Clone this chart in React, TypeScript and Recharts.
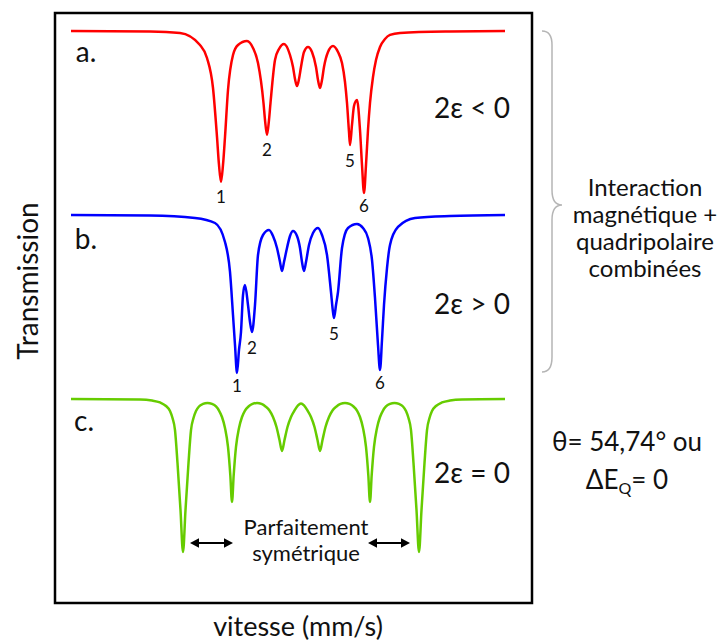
import React from "react"
import { ComposedChart, Line, XAxis, YAxis, ReferenceArea, ReferenceDot, ReferenceLine } from "recharts"

// [velocity (mm/s), transmission (a.u., offset per spectrum)]
const spectrumA: [number, number][] = [
  [-11.5, 95.33], [-7.55, 95.25], [-6.05, 95.0], [-5.05, 93.0], [-4.7, 90.83], [-4.4, 85.83],
  [-4.2, 77.67], [-4.1, 73.0], [-4.0, 70.17], [-3.9, 73.0], [-3.8, 77.67], [-3.65, 85.5],
  [-3.4, 91.33], [-3.15, 93.0], [-2.7, 93.67], [-2.4, 92.5], [-2.15, 90.0], [-1.875, 83.33],
  [-1.8, 80.5], [-1.7, 78.0], [-1.6, 80.5], [-1.525, 83.33], [-1.3, 90.5], [-1.1, 92.33],
  [-0.85, 93.17], [-0.55, 91.33], [-0.4, 89.33], [-0.3, 87.33], [-0.2, 86.17], [-0.1, 87.33],
  [0.0, 89.33], [0.15, 91.83], [0.35, 92.67], [0.55, 91.83], [0.75, 89.33], [0.85, 87.17],
  [0.95, 85.83], [1.05, 87.17], [1.15, 89.33], [1.35, 91.83], [1.6, 92.83], [1.85, 91.83],
  [2.05, 90.0], [2.2, 86.83], [2.3, 83.33], [2.4, 78.5], [2.45, 76.33], [2.55, 79.67],
  [2.65, 82.83], [2.8, 83.83], [2.95, 78.83], [3.05, 73.0], [3.15, 68.33], [3.25, 73.0],
  [3.35, 78.83], [3.45, 83.33], [3.6, 87.67], [3.75, 90.5], [3.95, 92.67], [4.2, 94.0],
  [4.45, 94.67], [4.95, 95.0], [7.45, 95.25], [10.2, 95.33],
]

const spectrumB: [number, number][] = [
  [-11.5, 64.67], [-7.55, 64.58], [-5.3, 64.17], [-4.3, 63.33], [-3.8, 60.17], [-3.55, 55.17],
  [-3.4, 48.0], [-3.3, 43.0], [-3.2, 38.33], [-3.1, 42.17], [-3.0, 45.17], [-2.9, 51.33],
  [-2.8, 53.0], [-2.65, 49.67], [-2.55, 46.83], [-2.45, 45.17], [-2.3, 49.67], [-2.15, 58.0],
  [-1.9, 61.33], [-1.6, 62.17], [-1.4, 61.17], [-1.2, 59.17], [-1.05, 56.83], [-0.95, 55.33],
  [-0.85, 56.83], [-0.7, 59.17], [-0.55, 61.17], [-0.4, 62.0], [-0.2, 61.17], [-0.05, 59.17],
  [0.05, 56.83], [0.15, 55.33], [0.25, 56.83], [0.4, 59.67], [0.6, 61.67], [0.85, 62.5],
  [1.05, 61.33], [1.3, 58.0], [1.5, 51.83], [1.6, 48.5], [1.65, 47.5], [1.75, 49.67],
  [1.85, 51.83], [2.05, 59.17], [2.35, 62.5], [2.8, 63.17], [3.1, 62.5], [3.35, 60.83],
  [3.55, 57.17], [3.7, 50.83], [3.85, 43.0], [3.95, 38.83], [4.05, 43.83], [4.15, 49.67],
  [4.3, 55.83], [4.45, 59.67], [4.85, 62.67], [5.7, 64.17], [7.45, 64.5], [10.2, 64.67],
]

const spectrumC: [number, number][] = [
  [-11.5, 34.0], [-8.05, 33.92], [-7.45, 33.75], [-7.05, 33.42], [-6.75, 32.83], [-6.55, 32.0],
  [-6.425, 30.83], [-6.3, 28.83], [-6.175, 23.33], [-6.025, 15.5], [-5.9, 8.5], [-5.775, 15.5],
  [-5.625, 23.33], [-5.5, 28.83], [-5.375, 30.83], [-5.25, 32.0], [-5.1, 32.75], [-4.9, 33.17],
  [-4.675, 33.33], [-4.45, 33.17], [-4.25, 32.75], [-4.1, 32.08], [-3.95, 31.0], [-3.8, 29.17],
  [-3.65, 26.0], [-3.535, 21.33], [-3.45, 16.83], [-3.365, 21.33], [-3.25, 26.0], [-3.1, 29.17],
  [-2.95, 31.0], [-2.8, 32.08], [-2.625, 32.75], [-2.425, 33.17], [-2.2, 33.33], [-1.975, 33.17],
  [-1.775, 32.75], [-1.575, 32.08], [-1.4, 31.0], [-1.225, 29.33], [-1.075, 27.17], [-0.95, 25.33],
  [-0.825, 27.17], [-0.675, 29.33], [-0.5, 31.0], [-0.325, 32.08], [-0.15, 32.92], [0.0, 33.25],
  [0.15, 32.92], [0.325, 32.08], [0.5, 31.0], [0.675, 29.33], [0.825, 27.17], [0.95, 25.33],
  [1.075, 27.17], [1.225, 29.33], [1.4, 31.0], [1.575, 32.08], [1.775, 32.75], [1.975, 33.17],
  [2.2, 33.33], [2.425, 33.17], [2.625, 32.75], [2.8, 32.08], [2.95, 31.0], [3.1, 29.17],
  [3.25, 26.0], [3.365, 21.33], [3.45, 16.83], [3.535, 21.33], [3.65, 26.0], [3.8, 29.17],
  [3.95, 31.0], [4.1, 32.08], [4.25, 32.75], [4.45, 33.17], [4.675, 33.33], [4.9, 33.17],
  [5.1, 32.75], [5.25, 32.0], [5.375, 30.83], [5.5, 28.83], [5.625, 23.33], [5.775, 15.5],
  [5.9, 8.5], [6.025, 15.5], [6.175, 23.33], [6.3, 28.83], [6.425, 30.83], [6.55, 32.0],
  [6.75, 32.83], [7.05, 33.42], [7.45, 33.75], [8.05, 33.92], [10.2, 34.0],
]

// numbered lines: [label, velocity of the minimum]
const peaksA: [string, number][] = [["1", -4.0], ["2", -1.7], ["5", 2.45], ["6", 3.15]]
const peaksB: [string, number][] = [["1", -3.2], ["2", -2.45], ["5", 1.65], ["6", 3.95]]

// "parfaitement symétrique" arrows (velocity from, to)
const arrowSpans: [number, number][] = [[-5.55, -3.4], [3.35, 5.45]]
const arrowLevel = 10

const X_DOMAIN: [number, number] = [-12.3, 11.55]
const Y_DOMAIN: [number, number] = [0, 98.33]

const FONT = "Lato, 'Open Sans', sans-serif"

const toRows = (s: [number, number][]) => s.map(([v, t]) => ({ v, t }))

const minAt = (s: [number, number][], v: number) => {
  const hit = s.find((p) => Math.abs(p[0] - v) < 1e-6)
  return hit ? hit[1] : 0
}

function PeakNumber({ cx, cy, text, dy }: any) {
  return (
    <text x={cx} y={cy + dy} textAnchor="middle" dominantBaseline="central" fontSize={17} fontFamily={FONT} fill="#111">
      {text}
    </text>
  )
}

function DoubleArrow({ x1, x2, y1 }: any) {
  const h = 7
  return (
    <g>
      <line x1={x1 + 4} y1={y1} x2={x2 - 4} y2={y1} stroke="#000" strokeWidth={2} />
      <polygon points={`${x1},${y1} ${x1 + h + 2},${y1 - h / 1.5} ${x1 + h + 2},${y1 + h / 1.5}`} fill="#000" />
      <polygon points={`${x2},${y1} ${x2 - h - 2},${y1 - h / 1.5} ${x2 - h - 2},${y1 + h / 1.5}`} fill="#000" />
    </g>
  )
}

const txt = (x: number, y: number, size: number): React.CSSProperties => ({
  position: "absolute",
  left: x,
  top: y,
  transform: "translate(-50%, -50%)",
  fontFamily: FONT,
  fontSize: size,
  color: "#111",
  whiteSpace: "nowrap",
  lineHeight: 1,
})

export default function App() {
  return (
    <div style={{ position: "absolute", left: 0, top: 0, width: 725, height: 644, background: "#fff" }}>
      <ComposedChart width={725} height={644} margin={{ top: 13, right: 193, bottom: 41, left: 55 }}>
        <XAxis type="number" dataKey="v" domain={X_DOMAIN} hide allowDataOverflow />
        <YAxis type="number" domain={Y_DOMAIN} hide allowDataOverflow />
        <ReferenceArea x1={X_DOMAIN[0]} x2={X_DOMAIN[1]} y1={Y_DOMAIN[0]} y2={Y_DOMAIN[1]} fill="none" stroke="#000" strokeWidth={2.5} fillOpacity={0} />
        <Line data={toRows(spectrumA)} dataKey="t" type="monotone" stroke="#ff0000" strokeWidth={2.5} dot={false} isAnimationActive={false} />
        <Line data={toRows(spectrumB)} dataKey="t" type="monotone" stroke="#0000ff" strokeWidth={2.5} dot={false} isAnimationActive={false} />
        <Line data={toRows(spectrumC)} dataKey="t" type="monotone" stroke="#66cc00" strokeWidth={2.5} dot={false} isAnimationActive={false} />
        {peaksA.map(([n, v]) => (
          <ReferenceDot key={`a${n}`} x={v} y={minAt(spectrumA, v)} r={0} shape={(p: any) => <PeakNumber {...p} text={n} dy={n === "6" ? 12 : 15} />} />
        ))}
        {peaksB.map(([n, v]) => (
          <ReferenceDot key={`b${n}`} x={v} y={minAt(spectrumB, v)} r={0} shape={(p: any) => <PeakNumber {...p} text={n} dy={n === "1" || n === "6" ? 12 : 16} />} />
        ))}
        {arrowSpans.map(([a, b], i) => (
          <ReferenceLine key={`arr${i}`} segment={[{ x: a, y: arrowLevel }, { x: b, y: arrowLevel }]} shape={(p: any) => <DoubleArrow {...p} />} />
        ))}
      </ComposedChart>

      <svg width={725} height={644} style={{ position: "absolute", left: 0, top: 0, pointerEvents: "none" }}>
        <path
          d="M 542 31 Q 552 31 552 45 L 552 190 Q 552 205 562 205 Q 552 205 552 220 L 552 357 Q 552 372 542 372"
          fill="none"
          stroke="#b5b5b5"
          strokeWidth={1.5}
        />
      </svg>

      <div style={txt(86, 51, 28)}>a.</div>
      <div style={txt(86, 238, 28)}>b.</div>
      <div style={txt(84, 420, 28)}>c.</div>

      <div style={txt(472, 107, 28)}>2ε &lt; 0</div>
      <div style={txt(472, 303, 28)}>2ε &gt; 0</div>
      <div style={txt(472, 472, 28)}>2ε = 0</div>

      <div style={txt(306, 527, 22)}>Parfaitement</div>
      <div style={txt(306, 553, 22)}>symétrique</div>

      <div style={{ ...txt(645, 227, 24), textAlign: "center", lineHeight: "27px" }}>
        Interaction
        <br />
        magnétique +
        <br />
        quadripolaire
        <br />
        combinées
      </div>

      <div style={{ ...txt(627, 464, 26), textAlign: "center", lineHeight: "38px" }}>
        θ= 54,74° ou
        <br />
        ΔE<sub style={{ fontSize: 16, verticalAlign: -5 }}>Q</sub>= 0
      </div>

      <div style={{ ...txt(27, 281, 28), transform: "translate(-50%, -50%) rotate(-90deg)" }}>Transmission</div>
      <div style={txt(298, 625, 27)}>vitesse (mm/s)</div>
    </div>
  )
}
